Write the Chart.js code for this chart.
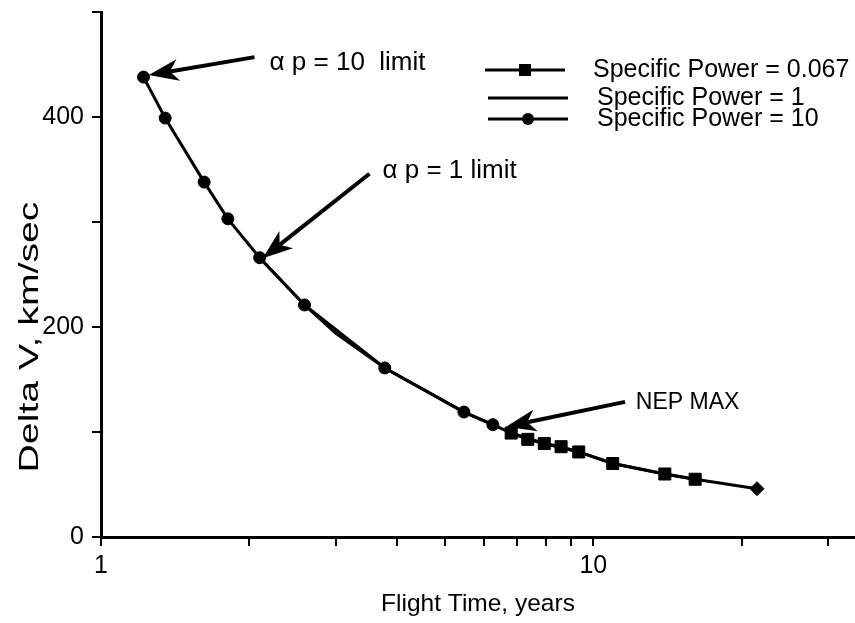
<!DOCTYPE html>
<html>
<head>
<meta charset="utf-8">
<title>Delta V vs Flight Time</title>
<script src="https://cdn.jsdelivr.net/npm/chart.js@4.4.1/dist/chart.umd.min.js"></script>
<style>
  html, body { margin: 0; padding: 0; background: #fff; }
  #wrap { width: 855px; height: 623px; }
</style>
</head>
<body>
<div id="wrap"><canvas id="chart" width="855" height="623"></canvas></div>
<script>
// ===== DATA =====
const seriesLabels = ['Specific Power = 0.067', 'Specific Power = 1', 'Specific Power = 10']

// Specific Power = 0.067 (square markers)
const sp0067Years = [6.81, 7.36, 7.95, 8.6, 9.34, 10.95, 13.97, 16.1]
const sp0067DeltaV = [99, 93, 89, 86, 81, 70, 60, 55]

// Specific Power = 1 (plain line)
const sp1Years = [2.1, 2.59, 3.0, 3.77, 5.46, 6.25, 6.81, 7.95, 9.34, 10.95, 13.97, 16.1, 21.5]
const sp1DeltaV = [266, 221, 194, 161, 119, 107, 99, 89, 81, 70, 60, 55, 46]

// Specific Power = 10 (dots), gap before the end point
const sp10Years = [1.22, 1.35, 1.62, 1.81, 2.1, 2.59, 3.77, 5.46, 6.25, 12, 21.5]
const sp10DeltaV = [438, 399, 338, 303, 266, 221, 161, 119, 107, null, 46]

// axis ticks
const xTickValues = [1, 2, 3, 4, 5, 6, 7, 8, 9, 10, 20, 30]
const xTickLabels = ['1', '', '', '', '', '', '', '', '', '10', '', '']
const yTickValues = [0, 100, 200, 300, 400, 500]
const yTickLabels = ['0', '', '200', '', '400', '']

const xTitle = 'Flight Time, years'
const yTitle = 'Delta V, km/sec'

// annotations (data coords: [years, km/sec])
const noteTexts = ['\u03b1 p = 10  limit', '\u03b1 p = 1 limit', 'NEP MAX']
const noteTextAt = [[2.2, 452], [3.73, 349], [12.2, 128]]
const noteFrom = [[2.05, 457], [3.51, 346], [11.6, 128.7]]
const noteTo = [[1.25, 440], [2.13, 265.5], [6.65, 105]]

// ===== STYLE =====
const FONT = '"Liberation Sans", Arial, Helvetica, sans-serif'
Chart.defaults.font.family = FONT
Chart.defaults.color = '#000'

const noteFonts = ['26px ', '26px ', '23px ']

// legend rows, canvas pixels
const legendRows = [
  { y: 70, x1: 485, x2: 565, textX: 593, marker: 'rect' },
  { y: 98, x1: 488, x2: 568, textX: 597, marker: null },
  { y: 119, x1: 488, x2: 568, textX: 597, marker: 'circle' }
]

function toPoints(xs, ys) {
  return xs.map((x, i) => ({ x: x, y: ys[i] }))
}

// ===== ARROW =====
function drawArrow(ctx, x1, y1, x2, y2) {
  const ang = Math.atan2(y2 - y1, x2 - x1)
  const cos = Math.cos(ang)
  const sin = Math.sin(ang)
  const headLen = 30
  const headW = 11
  const bx = x2 - headLen * cos
  const by = y2 - headLen * sin
  const nx = x2 - headLen * 0.72 * cos
  const ny = y2 - headLen * 0.72 * sin

  ctx.beginPath()
  ctx.moveTo(x1, y1)
  ctx.lineTo(nx, ny)
  ctx.lineWidth = 4
  ctx.stroke()

  ctx.beginPath()
  ctx.moveTo(x2, y2)
  ctx.lineTo(bx + headW * sin, by - headW * cos)
  ctx.lineTo(nx, ny)
  ctx.lineTo(bx - headW * sin, by + headW * cos)
  ctx.closePath()
  ctx.fill()
}

const whiteBg = {
  id: 'whiteBg',
  beforeDraw(chart) {
    const ctx = chart.ctx
    ctx.save()
    ctx.fillStyle = '#fff'
    ctx.fillRect(0, 0, chart.width, chart.height)
    ctx.restore()
  }
}

const notesPlugin = {
  id: 'notes',
  afterDraw(chart) {
    const ctx = chart.ctx
    const xs = chart.scales.x
    const ys = chart.scales.y
    ctx.save()
    ctx.fillStyle = '#000'
    ctx.strokeStyle = '#000'
    ctx.lineCap = 'butt'

    // arrows + labels
    noteTexts.forEach((text, i) => {
      drawArrow(ctx,
        xs.getPixelForValue(noteFrom[i][0]), ys.getPixelForValue(noteFrom[i][1]),
        xs.getPixelForValue(noteTo[i][0]), ys.getPixelForValue(noteTo[i][1]))
      ctx.font = noteFonts[i] + FONT
      ctx.textAlign = 'left'
      ctx.textBaseline = 'middle'
      ctx.fillText(text, xs.getPixelForValue(noteTextAt[i][0]), ys.getPixelForValue(noteTextAt[i][1]))
    })

    // legend
    legendRows.forEach((row, i) => {
      ctx.beginPath()
      ctx.moveTo(row.x1, row.y)
      ctx.lineTo(row.x2, row.y)
      ctx.lineWidth = 3
      ctx.stroke()
      const cx = (row.x1 + row.x2) / 2
      if (row.marker === 'rect') {
        ctx.fillRect(cx - 6, row.y - 6, 12, 12)
      } else if (row.marker === 'circle') {
        ctx.beginPath()
        ctx.arc(cx, row.y, 6, 0, Math.PI * 2)
        ctx.fill()
      }
      ctx.font = '25px ' + FONT
      ctx.textAlign = 'left'
      ctx.textBaseline = 'middle'
      ctx.fillText(seriesLabels[i], row.textX, row.y)
    })

    // y axis title, the original is drawn tall and stretched
    ctx.translate(30, 337)
    ctx.rotate(-Math.PI / 2)
    ctx.scale(1.4, 1)
    ctx.font = '28px ' + FONT
    ctx.textAlign = 'center'
    ctx.textBaseline = 'middle'
    ctx.fillText(yTitle, 0, 0)
    ctx.restore()
  }
}

// ===== CHART =====
const axisBorder = { color: '#000', width: 3 }
const axisGrid = { drawOnChartArea: false, drawTicks: true, color: '#000', lineWidth: 2, tickLength: 9 }

new Chart(document.getElementById('chart'), {
  type: 'line',
  data: {
    datasets: [
      {
        label: seriesLabels[0],
        data: toPoints(sp0067Years, sp0067DeltaV),
        borderColor: '#000',
        backgroundColor: '#000',
        borderWidth: 3,
        pointStyle: 'rect',
        pointRadius: 8.5,
        pointBorderWidth: 1,
        tension: 0,
        order: 1
      },
      {
        label: seriesLabels[1],
        data: toPoints(sp1Years, sp1DeltaV),
        borderColor: '#000',
        borderWidth: 3,
        pointRadius: 0,
        tension: 0,
        order: 3
      },
      {
        label: seriesLabels[2],
        data: toPoints(sp10Years, sp10DeltaV),
        borderColor: '#000',
        backgroundColor: '#000',
        borderWidth: 3,
        pointStyle: sp10Years.map((v, i) => i === sp10Years.length - 1 ? 'rectRot' : 'circle'),
        pointRadius: sp10Years.map((v, i) => i === sp10Years.length - 1 ? 7 : 6),
        pointBorderWidth: 1,
        tension: 0,
        spanGaps: false,
        order: 2
      }
    ]
  },
  options: {
    responsive: false,
    animation: false,
    layout: { autoPadding: false, padding: { top: 12, right: 0, bottom: 0, left: 0 } },
    plugins: {
      legend: { display: false },
      tooltip: { enabled: false }
    },
    scales: {
      x: {
        type: 'logarithmic',
        min: 1,
        max: 34,
        afterBuildTicks: function(scale) {
          scale.ticks = xTickValues.map(v => ({ value: v }))
        },
        afterFit: function(scale) {
          scale.height = 86
          scale.paddingLeft = 0
          scale.paddingRight = 0
        },
        border: axisBorder,
        grid: axisGrid,
        ticks: {
          autoSkip: false,
          maxRotation: 0,
          color: '#000',
          font: { size: 25 },
          padding: 5,
          callback: function(value) {
            const i = xTickValues.indexOf(value)
            return i >= 0 ? xTickLabels[i] : ''
          }
        },
        title: {
          display: true,
          text: xTitle,
          color: '#000',
          font: { size: 24.5 },
          padding: { top: 0, bottom: 4 }
        }
      },
      y: {
        type: 'linear',
        min: 0,
        max: 500,
        afterBuildTicks: function(scale) {
          scale.ticks = yTickValues.map(v => ({ value: v }))
        },
        afterFit: function(scale) {
          scale.width = 101
          scale.paddingTop = 0
          scale.paddingBottom = 0
        },
        border: axisBorder,
        grid: axisGrid,
        ticks: {
          color: '#000',
          font: { size: 25 },
          padding: 8,
          callback: function(value) {
            const i = yTickValues.indexOf(value)
            return i >= 0 ? yTickLabels[i] : ''
          }
        },
        title: { display: false }
      }
    }
  },
  plugins: [whiteBg, notesPlugin]
})
</script>
</body>
</html>
